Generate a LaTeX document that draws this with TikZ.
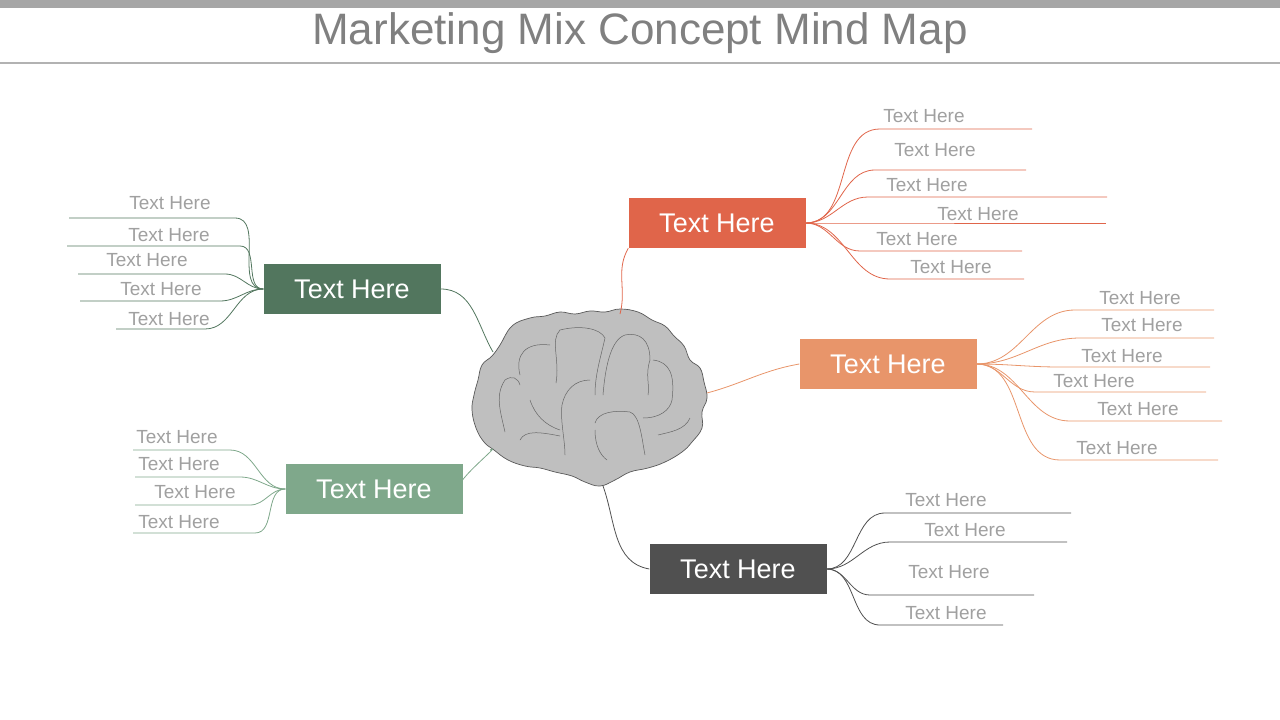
\documentclass[tikz,border=0pt]{standalone}
\usepackage{fontspec}
\setmainfont{Liberation Sans}
\usetikzlibrary{positioning}
\definecolor{redbox}{HTML}{E0654A}
\definecolor{orangebox}{HTML}{E8956A}
\definecolor{greybox}{HTML}{505050}
\definecolor{darkgreen}{HTML}{52765E}
\definecolor{lightgreen}{HTML}{7FA88B}
\definecolor{leaftext}{HTML}{A0A0A0}
\tikzset{
  topic/.style={fill=#1,text=white,minimum width=177pt,minimum height=50pt,
    inner sep=0pt,font=\fontsize{27}{30}\selectfont},
  leaf/.style={text=leaftext,inner sep=0pt,font=\fontsize{19}{22}\selectfont},
  twig/.style={#1,line width=0.8pt},
}
\begin{document}
\begin{tikzpicture}[x=1pt,y=-1pt]
    \useasboundingbox (0,0) rectangle (1280,720);
    \fill[black!35] (0,0) rectangle (1280,8);
    \node[text=black!50,font=\fontsize{44}{48}\selectfont] (title) at (640,33) {Marketing Mix Concept Mind Map};
    \draw[black!30,line width=1.2pt] (0,63) -- (1280,63);
    % brain
    \draw[fill=black!25,draw=black!65,line width=0.7pt] plot[smooth cycle,tension=0.7] coordinates {
      (512,326) (530,318) (545,316) (560,312) (575,314) (590,311) (605,312) (620,309)
      (638,312) (652,320) (665,326) (674,336) (684,346) (690,360) (700,368) (704,382)
      (707,398) (702,412) (702,428) (692,442) (682,452) (665,462) (648,468) (630,472)
      (615,480) (600,486) (585,482) (572,476) (555,472) (540,468) (525,466) (508,460)
      (494,450) (484,442) (476,428) (472,410) (474,395) (478,380) (482,365) (492,356)
      (500,345)};
    \begin{scope}[draw=black!60,line width=0.5pt]
      \draw (556,383) .. controls (560,360) and (550,340) .. (560,330) .. controls (580,325) and (600,328) .. (605,338) .. controls (600,360) and (595,375) .. (595,395);
      \draw (603,395) .. controls (605,370) and (610,340) .. (625,335) .. controls (640,332) and (650,340) .. (650,360) .. controls (645,375) and (650,385) .. (648,395);
      \draw (590,380) .. controls (575,380) and (565,390) .. (562,405) .. controls (560,420) and (565,440) .. (565,455);
      \draw (595,423) .. controls (598,412) and (615,410) .. (630,412) .. controls (640,415) and (642,440) .. (645,455);
      \draw (653,360) .. controls (670,362) and (675,375) .. (672,400) .. controls (670,410) and (660,418) .. (643,418);
      \draw (520,440) .. controls (525,430) and (540,432) .. (560,436);
      \draw (505,432) .. controls (500,410) and (495,395) .. (505,380) .. controls (512,375) and (518,378) .. (520,385);
      \draw (520,375) .. controls (515,355) and (525,342) .. (550,345);
      \draw (530,400) .. controls (535,415) and (545,425) .. (560,430);
      \draw (658,435) .. controls (670,432) and (685,430) .. (690,418);
      \draw (595,430) .. controls (595,445) and (600,455) .. (607,460);
    \end{scope}
    \coordinate (brainN) at (620,314);
    \coordinate (brainE) at (707,393);
    \coordinate (brainS) at (603,486);
    \coordinate (brainNW) at (493,352);
    \coordinate (brainSW) at (490,450);
    % topics
    \node[topic=redbox] (price) at (717,223) {Text Here};
    \node[topic=orangebox] (place) at (888,364) {Text Here};
    \node[topic=greybox] (promo) at (738,569) {Text Here};
    \node[topic=darkgreen] (product) at (352,289) {Text Here};
    \node[topic=lightgreen] (people) at (374,489) {Text Here};
    \draw[twig=redbox] (brainN) to[out=75,in=-120] (price.south west) ++(20,0) coordinate (p);
    \draw[twig=orangebox] (brainE) to[out=15,in=190] (place.west);
    \draw[twig=greybox] (brainS) to[out=-70,in=170] (promo.west);
    \draw[twig=darkgreen] (brainNW) to[out=120,in=0] (product.east);
    \draw[twig=lightgreen] (brainSW) to[out=30,in=180] (people.east);
    % right leaves: start/end/y/text x/text y
    \foreach \sx/\ex/\ly/\tx/\ty [count=\i] in {880/1032/129/924/116, 875/1026/170/935/150, 868/1107/197/927/185,
        806/1106/223/978/214, 860/1022/251/917/239, 890/1024/279/951/267}{
      \coordinate (pa\i) at (\sx,\ly);
      \draw[twig=redbox] (price.east) to[out=0,in=180] (pa\i) -- (\ex,\ly);
      \node[leaf] (pt\i) at (\tx,\ty) {Text Here};
    }
    \foreach \sx/\ex/\ly/\tx/\ty [count=\i] in {1075/1214/310/1140/298, 1080/1214/338/1142/325, 1060/1210/367/1122/356,
        1035/1206/392/1094/381, 1070/1222/421/1138/409, 1060/1218/460/1117/448}{
      \coordinate (pl\i) at (\sx,\ly);
      \draw[twig=orangebox] (place.east) to[out=0,in=180] (pl\i) -- (\ex,\ly);
      \node[leaf] (plt\i) at (\tx,\ty) {Text Here};
    }
    \foreach \sx/\ex/\ly/\tx/\ty [count=\i] in {885/1071/513/946/500, 890/1067/542/965/530, 870/1034/595/949/572,
        880/1003/625/946/613}{
      \coordinate (pr\i) at (\sx,\ly);
      \draw[twig=greybox] (promo.east) to[out=0,in=180] (pr\i) -- (\ex,\ly);
      \node[leaf] (prt\i) at (\tx,\ty) {Text Here};
    }
    % left leaves
    \foreach \sx/\ex/\ly/\tx/\ty [count=\i] in {235/69/218/170/203, 240/67/246/169/235, 225/78/274/147/260,
        220/80/301/161/289, 205/116/329/169/319}{
      \coordinate (pd\i) at (\sx,\ly);
      \draw[twig=darkgreen] (product.west) to[out=180,in=0] (pd\i) -- (\ex,\ly);
      \node[leaf] (pdt\i) at (\tx,\ty) {Text Here};
    }
    \foreach \sx/\ex/\ly/\tx/\ty [count=\i] in {230/133/450/177/437, 240/135/477/179/464, 250/135/505/195/492,
        255/133/533/179/522}{
      \coordinate (pe\i) at (\sx,\ly);
      \draw[twig=lightgreen] (people.west) to[out=180,in=0] (pe\i) -- (\ex,\ly);
      \node[leaf] (pet\i) at (\tx,\ty) {Text Here};
    }
\end{tikzpicture}
\end{document}
